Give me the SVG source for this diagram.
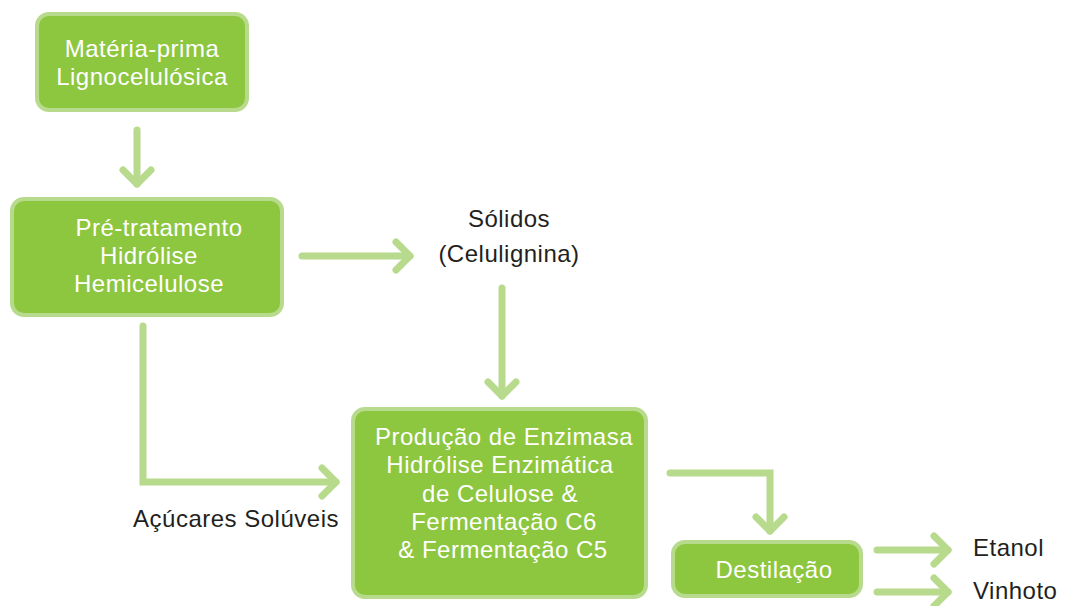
<svg xmlns="http://www.w3.org/2000/svg" width="1071" height="606" viewBox="0 0 1071 606">
<style>
.box{fill:#8dc63f;stroke:#b7da8c;stroke-width:4}
.wt{fill:#ffffff;font-family:"Liberation Sans",Arial,sans-serif;font-size:24px;letter-spacing:0.5px;text-anchor:middle}
.bt{fill:#231f20;font-family:"Liberation Sans",Arial,sans-serif;font-size:24px;letter-spacing:0.5px;text-anchor:middle}
.con{fill:none;stroke:#b7da8c;stroke-width:7;stroke-linecap:round;stroke-linejoin:miter}
</style>
<defs>
<marker id="chev" markerUnits="userSpaceOnUse" viewBox="-20 -20 24 40" refX="0" refY="0" markerWidth="24" markerHeight="40" orient="auto" overflow="visible">
<path d="M-14,-14 L0,0 L-14,14" fill="none" stroke="#b7da8c" stroke-width="7" stroke-linecap="round" stroke-linejoin="round"/>
</marker>
</defs>
<rect width="1071" height="606" fill="#ffffff"/>
<g id="connectors">
<path class="con" d="M137,130 V184" marker-end="url(#chev)"/>
<path class="con" d="M302,256 H410" marker-end="url(#chev)"/>
<path class="con" d="M502,288 V396" marker-end="url(#chev)"/>
<path class="con" d="M143,326 V482 H336" marker-end="url(#chev)"/>
<path class="con" d="M670,473 H770 V531" marker-end="url(#chev)"/>
<path class="con" d="M877,550 H948" marker-end="url(#chev)"/>
<path class="con" d="M877,592 H948" marker-end="url(#chev)"/>
</g>
<g id="materia-prima">
<rect class="box" x="37" y="14" width="210" height="96" rx="12"/>
<text class="wt" x="142" y="57">Matéria-prima</text>
<text class="wt" x="142" y="85">Lignocelulósica</text>
</g>
<g id="pre-tratamento">
<rect class="box" x="12" y="199" width="270" height="116" rx="12"/>
<text class="wt" x="159" y="236">Pré-tratamento</text>
<text class="wt" x="149" y="264">Hidrólise</text>
<text class="wt" x="149" y="292">Hemicelulose</text>
</g>
<g id="solidos">
<text class="bt" x="509" y="227">Sólidos</text>
<text class="bt" x="509" y="262">(Celulignina)</text>
</g>
<g id="producao">
<rect class="box" x="353" y="409" width="293" height="188" rx="12"/>
<text class="wt" x="504" y="445">Produção de Enzimasa</text>
<text class="wt" x="500" y="473">Hidrólise Enzimática</text>
<text class="wt" x="500" y="502">de Celulose &amp;</text>
<text class="wt" x="504" y="530">Fermentação C6</text>
<text class="wt" x="503" y="558">&amp; Fermentação C5</text>
</g>
<g id="acucares">
<text class="bt" x="236" y="527">Açúcares Solúveis</text>
</g>
<g id="destilacao">
<rect class="box" x="673" y="542" width="188" height="54" rx="12"/>
<text class="wt" x="774" y="578">Destilação</text>
</g>
<g id="etanol">
<text class="bt" x="973" y="556" style="text-anchor:start">Etanol</text>
</g>
<g id="vinhoto">
<text class="bt" x="973" y="599" style="text-anchor:start">Vinhoto</text>
</g>
</svg>
